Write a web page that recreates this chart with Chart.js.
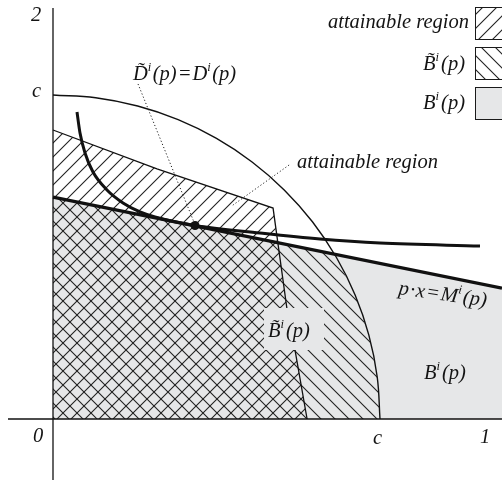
<!DOCTYPE html>
<html><head><meta charset="utf-8">
<script src="https://cdn.jsdelivr.net/npm/chart.js@4.4.0/dist/chart.umd.min.js"></script>
<style>html,body{margin:0;padding:0;background:#fff;overflow:hidden}canvas{display:block}</style>
</head><body>
<canvas id="c" width="502" height="483"></canvas>
<script>
// ---- data (units: c = 1) ----
const budgetLine = [{x:0,y:0.685},{x:1.373,y:0.404}];
const circleArc = [{x:0,y:1},{x:0.1305,y:0.9914},{x:0.2588,y:0.9659},{x:0.3827,y:0.9239},{x:0.5,y:0.866},{x:0.6088,y:0.7934},{x:0.7071,y:0.7071},{x:0.7934,y:0.6088},{x:0.866,y:0.5},{x:0.9239,y:0.3827},{x:0.9659,y:0.2588},{x:0.9914,y:0.1305},{x:1,y:0}];
const tildeBBoundary = [{x:0,y:0.685},{x:0.861,y:0.509},{x:0.9239,y:0.3827},{x:0.9659,y:0.2588},{x:0.9914,y:0.1305},{x:1,y:0}];
const attainableBoundary = [{x:0,y:0.892},{x:0.318,y:0.772},{x:0.673,y:0.651},{x:0.716,y:0.336},{x:0.740,y:0.213},{x:0.777,y:0}];
const indifferenceCurve = [{x:0.0734,y:0.9475},{x:0.0826,y:0.8827},{x:0.0979,y:0.821},{x:0.1223,y:0.7623},{x:0.1651,y:0.7068},{x:0.2141,y:0.6667},{x:0.2661,y:0.6389},{x:0.3119,y:0.6235},{x:0.4343,y:0.5972},{x:0.633,y:0.5741},{x:0.8165,y:0.5556},{x:1.0,y:0.5432},{x:1.3058,y:0.534}];
const demandPoint = [{x:0.4343,y:0.5972}];
const axisXLine = [{x:-0.1376,y:0},{x:1.373,y:0}];
const axisYLine = [{x:0,y:-0.188},{x:0,y:1.2685}];
const leaderD = [{x:0.26,y:1.034},{x:0.431,y:0.608}];
const leaderA = [{x:0.722,y:0.784},{x:0.55,y:0.66}];
const tickLabels = ['2','c','0','c','1'];
const legendLabels = ['attainable region','B\u0303','B'];

const XMIN=-0.16208, XMAX=1.37309, YMIN=-0.19753, YMAX=1.29321;
const GRAY='rgb(230,231,232)';
function hatch(dir){
  const s=14, cv=document.createElement('canvas'); cv.width=s; cv.height=s;
  const g=cv.getContext('2d'); g.strokeStyle='#222'; g.lineWidth=1.1; g.beginPath();
  if(dir>0){ g.moveTo(0,s);g.lineTo(s,0); g.moveTo(-1,1);g.lineTo(1,-1); g.moveTo(s-1,s+1);g.lineTo(s+1,s-1); }
  else { g.moveTo(0,0);g.lineTo(s,s); g.moveTo(-1,s-1);g.lineTo(1,s+1); g.moveTo(s-1,-1);g.lineTo(s+1,1); }
  g.stroke(); return g.createPattern(cv,'repeat');
}
const patF=hatch(1), patB=hatch(-1);
const FONT='"Liberation Serif","Times New Roman",serif';
const FS=20.5, SS=12.5;
function rich(ctx,x,y,parts,align){
  let w=0; parts.forEach(p=>{ctx.font=`italic ${p[1]}px ${FONT}`; w+=ctx.measureText(p[0]).width+(p[3]||0);});
  if(align==='right') x-=w;
  parts.forEach(p=>{ctx.font=`italic ${p[1]}px ${FONT}`; ctx.fillText(p[0],x,y+(p[2]||0)); x+=ctx.measureText(p[0]).width+(p[3]||0);});
}
const labelPlugin={id:'labels',
  afterDatasetsDraw(chart){
    const ctx=chart.ctx, xs=chart.scales.x, ys=chart.scales.y;
    const px=v=>xs.getPixelForValue(v), py=v=>ys.getPixelForValue(v);
    ctx.save(); ctx.fillStyle='#141414'; ctx.textBaseline='alphabetic';
    // axis labels
    ctx.font=`italic ${FS}px ${FONT}`;
    ctx.fillText(tickLabels[0],px(0)-22,py(YMAX)+21);
    ctx.fillText(tickLabels[1],px(0)-21,py(1)+2);
    ctx.fillText(tickLabels[2],px(0)-20,py(0)+23);
    ctx.fillText(tickLabels[3],px(1)-7,py(0)+25);
    ctx.fillText(tickLabels[4],px(XMAX)-22,py(0)+24);
    // annotations
    rich(ctx,133,80,[['D\u0303',FS],['i',SS,-9,1.5],['(p)',FS,0,1],['=',FS,0,1],['D',FS],['i',SS,-9,1.5],['(p)',FS]]);
    ctx.font=`italic ${FS}px ${FONT}`; ctx.fillText('attainable region',297,168);
    ctx.fillStyle=GRAY; ctx.fillRect(264,308,60,42); ctx.fillStyle='#141414';
    rich(ctx,268,337,[['B\u0303',FS],['i',SS,-9,2],['(p)',FS]]);
    rich(ctx,424,379,[['B',FS],['i',SS,-9,2],['(p)',FS]]);
    ctx.save(); ctx.translate(398,294); ctx.rotate(8*Math.PI/180);
    rich(ctx,0,0,[['p',FS,0,1],['·',FS,0,1],['x',FS,0,1],['=',FS,0,1],['M',FS],['i',SS,-9,2],['(p)',FS]]); ctx.restore();
    // legend
    ctx.lineWidth=1; ctx.strokeStyle='#1a1a1a';
    ctx.fillStyle='#fff'; ctx.fillRect(475.5,7.5,40,32); ctx.fillStyle=patF; ctx.fillRect(475.5,7.5,40,32); ctx.strokeRect(475.5,7.5,40,32);
    ctx.fillStyle='#fff'; ctx.fillRect(475.5,47.5,40,32); ctx.fillStyle=patB; ctx.fillRect(475.5,47.5,40,32); ctx.strokeRect(475.5,47.5,40,32);
    ctx.fillStyle=GRAY; ctx.fillRect(475.5,87.5,40,32); ctx.strokeRect(475.5,87.5,40,32);
    ctx.fillStyle='#141414';
    ctx.font=`italic ${FS}px ${FONT}`; ctx.textAlign='right'; ctx.fillText(legendLabels[0],469,28); ctx.textAlign='left';
    rich(ctx,465,70,[[legendLabels[1],FS],['i',SS,-9,2],['(p)',FS]],'right');
    rich(ctx,465,109,[[legendLabels[2],FS],['i',SS,-9,2],['(p)',FS]],'right');
    ctx.restore();
  }};
const base={pointRadius:0,borderWidth:0,fill:false,tension:0};
new Chart(document.getElementById('c').getContext('2d'),{
  type:'line',
  data:{datasets:[
    {...base,label:'B',data:budgetLine,fill:'origin',backgroundColor:GRAY,order:20},
    {...base,label:'tildeB',data:tildeBBoundary,fill:'origin',backgroundColor:patB,order:19},
    {...base,label:'attainable',data:attainableBoundary,fill:'origin',backgroundColor:patF,borderColor:'#111',borderWidth:1.3,order:18},
    {...base,label:'circle',data:circleArc,borderColor:'#111',borderWidth:1.4,tension:0.4,order:17},
    {...base,label:'axisX',data:axisXLine,borderColor:'#111',borderWidth:1.3,order:16},
    {...base,label:'axisY',data:axisYLine,borderColor:'#111',borderWidth:1.3,order:15},
    {...base,label:'leaderD',data:leaderD,borderColor:'#222',borderWidth:1,borderDash:[1.2,2.2],order:14},
    {...base,label:'leaderA',data:leaderA,borderColor:'#222',borderWidth:1,borderDash:[1.2,2.2],order:13},
    {...base,label:'budget',data:budgetLine,borderColor:'#111',borderWidth:3.3,order:12},
    {...base,label:'indiff',data:indifferenceCurve,borderColor:'#111',borderWidth:3,cubicInterpolationMode:'monotone',order:11},
    {...base,label:'demand',data:demandPoint,showLine:false,pointRadius:4.5,pointBackgroundColor:'#111',pointBorderWidth:0,order:10}
  ]},
  options:{responsive:false,animation:false,events:[],layout:{padding:0,autoPadding:false},
    plugins:{legend:{display:false},tooltip:{enabled:false}},
    scales:{x:{type:'linear',min:XMIN,max:XMAX,display:false},y:{type:'linear',min:YMIN,max:YMAX,display:false}}},
  plugins:[labelPlugin]
});
</script>
</body></html>
